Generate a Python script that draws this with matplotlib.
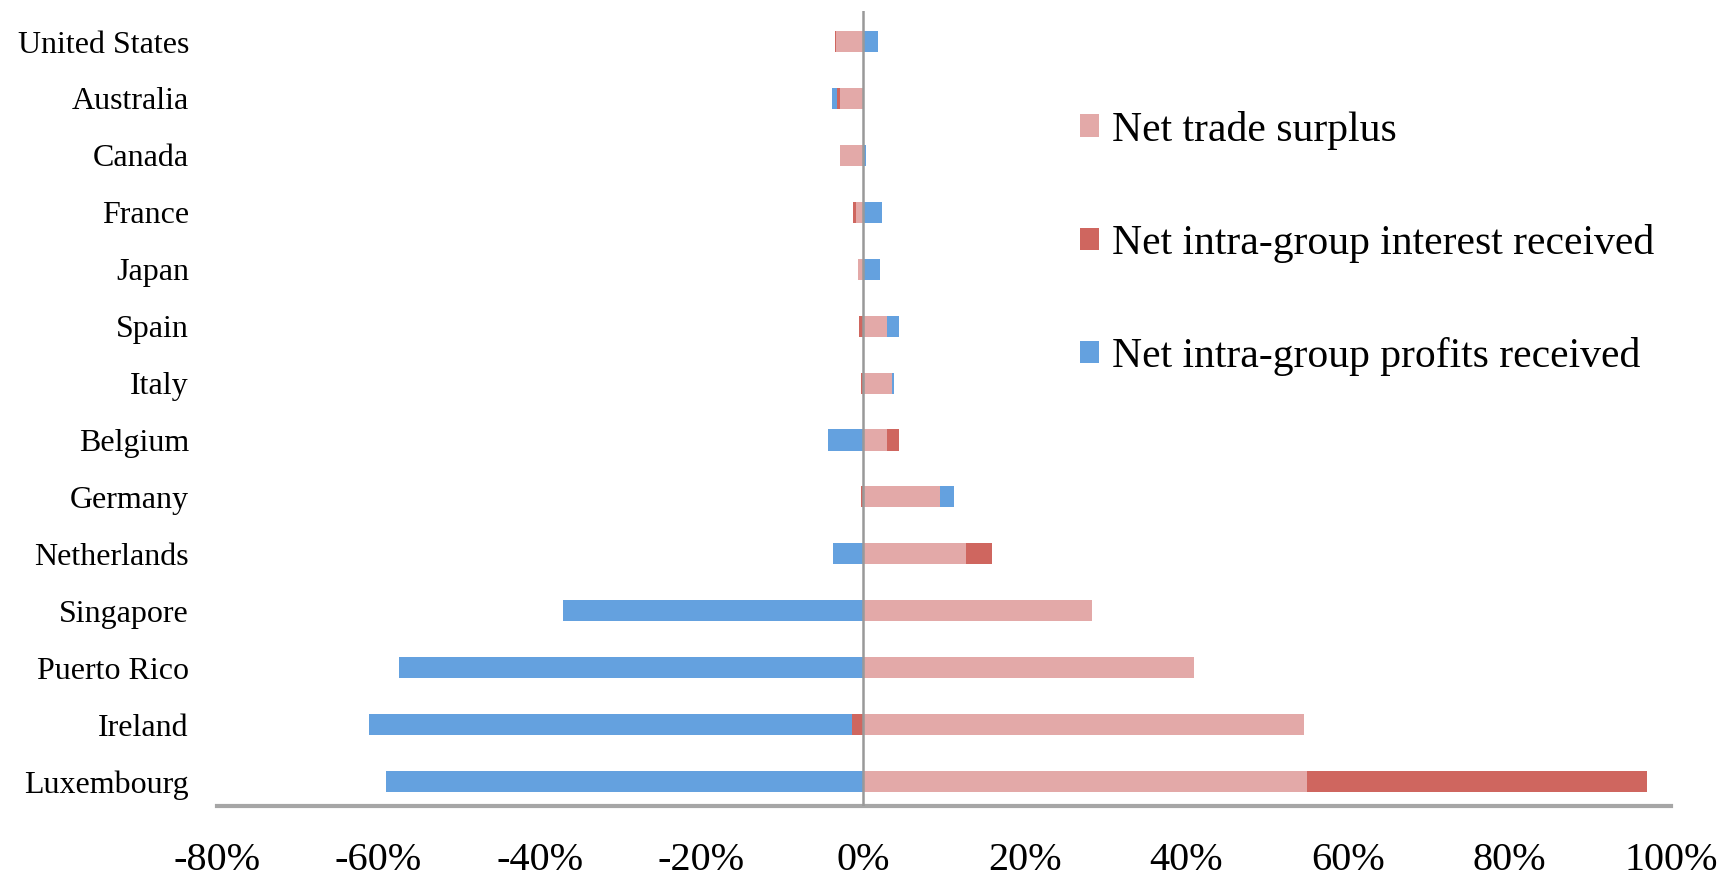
import numpy as np
import matplotlib
matplotlib.use("Agg")
import matplotlib.pyplot as plt

# Datos (porcentajes), de arriba hacia abajo
paises = ["United States", "Australia", "Canada", "France", "Japan", "Spain", "Italy",
          "Belgium", "Germany", "Netherlands", "Singapore", "Puerto Rico", "Ireland", "Luxembourg"]
comercio = [-3.3, -2.9, -2.9, -0.9, -0.6, 3.0, 3.6, 3.0, 9.5, 12.7, 28.3, 41.0, 54.6, 54.9]
intereses = [-0.2, -0.3, 0.0, -0.3, 0.0, -0.5, -0.2, 1.4, -0.2, 3.2, 0.0, 0.0, -1.4, 42.1]
beneficios = [1.8, -0.6, 0.35, 2.35, 2.1, 1.45, 0.25, -4.3, 1.7, -3.7, -37.1, -57.4, -59.8, -59.1]

series = ["Net trade surplus", "Net intra-group interest received", "Net intra-group profits received"]
colores = ["#E3A9A8", "#CF665F", "#64A1DF"]

plt.rcParams["font.family"] = ["Liberation Serif", "DejaVu Serif"]

fig = plt.figure(figsize=(17.25, 8.77), dpi=100)
ax = fig.add_axes([0.1256, 0.081, 0.8431, 0.906])

y = np.arange(len(paises))
pos = np.zeros(len(paises))
neg = np.zeros(len(paises))
for vals, nombre, col in zip([comercio, intereses, beneficios], series, colores):
    v = np.array(vals)
    left = np.where(v >= 0, pos, neg)
    ax.barh(y, v, left=left, height=0.37, color=col, label=nombre, zorder=2)
    pos = pos + np.where(v >= 0, v, 0)
    neg = neg + np.where(v < 0, v, 0)

ax.axvline(0, color="#999999", lw=1.8, zorder=3)

ax.set_xlim(-80, 100)
ax.set_ylim(len(paises) - 0.57, -0.53)
ax.set_xticks(np.arange(-80, 101, 20))
ax.set_xticklabels([f"{t}%" for t in range(-80, 101, 20)], fontsize=29)
ax.set_yticks(y)
ax.set_yticklabels(paises, fontsize=23)
ax.tick_params(axis="both", length=0)
ax.tick_params(axis="x", pad=26)
ax.tick_params(axis="y", pad=20)

for s in ["top", "right", "left"]:
    ax.spines[s].set_visible(False)
ax.spines["bottom"].set_color("#A6A6A6")
ax.spines["bottom"].set_linewidth(3)

ax.legend(loc="upper left", bbox_to_anchor=(0.626, 0.874), bbox_transform=fig.transFigure,
          frameon=False, fontsize=30, handlelength=0.46, handleheight=0.46,
          handletextpad=0.3, labelspacing=1.78, borderpad=0, borderaxespad=0)

fig.savefig("out.png", dpi=100)
